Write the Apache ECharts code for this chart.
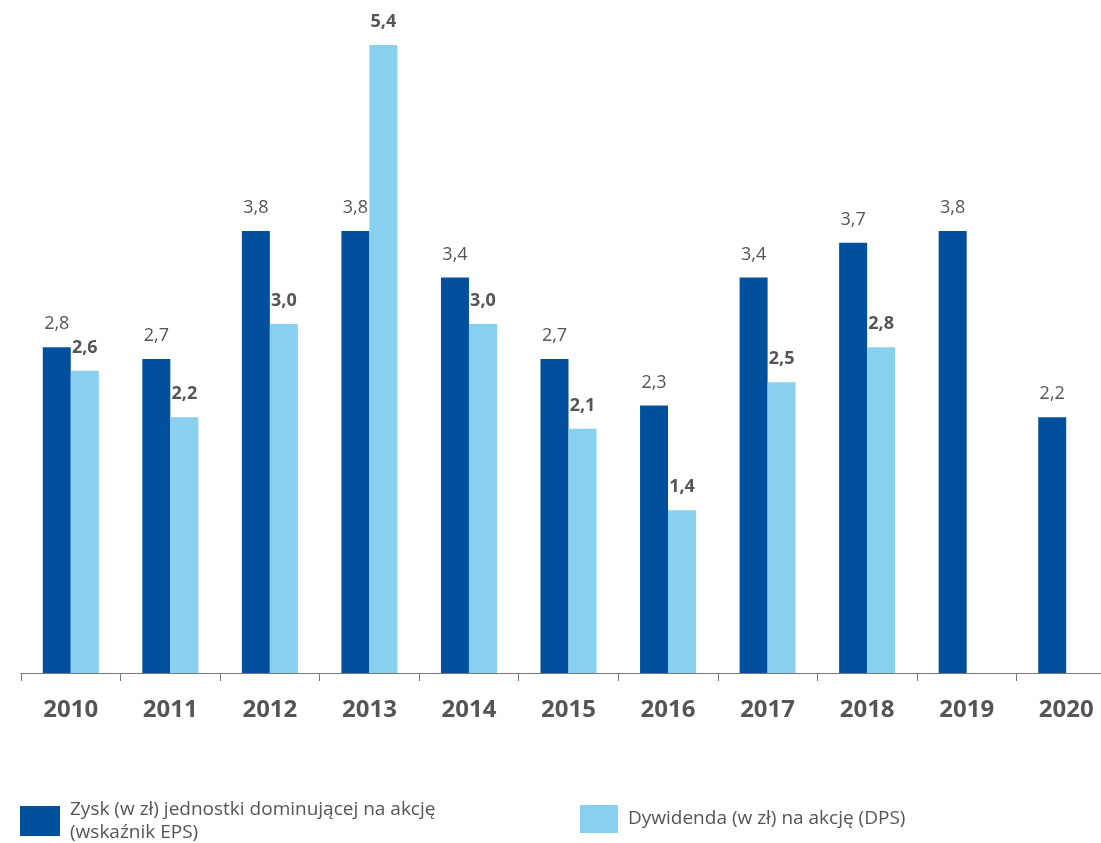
<!DOCTYPE html>
<html>
<head>
<meta charset="utf-8">
<script src="https://cdn.jsdelivr.net/npm/echarts@6/dist/echarts.min.js"></script>
<style>
  html, body { margin: 0; padding: 0; background: #fff; }
  #main { width: 1101px; height: 843px; }
</style>
</head>
<body>
<div id="main"></div>
<script>
// dane
var years = ['2010', '2011', '2012', '2013', '2014', '2015', '2016', '2017', '2018', '2019', '2020'];
var eps = [2.8, 2.7, 3.8, 3.8, 3.4, 2.7, 2.3, 3.4, 3.7, 3.8, 2.2];
var dps = [2.6, 2.2, 3.0, 5.4, 3.0, 2.1, 1.4, 2.5, 2.8, null, null];
var epsName = 'Zysk (w zł) jednostki dominującej na akcję (wskaźnik EPS)';
var dpsName = 'Dywidenda (w zł) na akcję (DPS)';

var font = '"Open Sans", "Noto Sans", sans-serif';
function fmt(p) {
  return p.value == null ? '' : p.value.toFixed(1).replace('.', ',');
}

var chart = echarts.init(document.getElementById('main'));
var option = {
  animation: false,
  textStyle: { fontFamily: font },
  grid: { left: 21, width: 1095, top: 45, bottom: 170, containLabel: false, outerBoundsMode: 'none' },
  legend: [
    {
      data: [epsName],
      left: 20, top: 798,
      padding: 0,
      itemWidth: 40, itemHeight: 30,
      icon: 'rect',
      selectedMode: false,
      formatter: function () { return 'Zysk (w zł) jednostki dominującej na akcję\n(wskaźnik EPS)'; },
      textStyle: { color: '#555', fontSize: 19, lineHeight: 23, fontFamily: font, padding: [0, 0, 0, 5] }
    },
    {
      data: [dpsName],
      left: 580, top: 805,
      padding: 0,
      itemWidth: 38, itemHeight: 28,
      icon: 'rect',
      selectedMode: false,
      textStyle: { color: '#555', fontSize: 19, fontFamily: font, padding: [3, 0, 0, 5] }
    }
  ],
  xAxis: {
    type: 'category',
    data: years,
    axisLine: { lineStyle: { color: '#777', width: 1 } },
    axisTick: { show: true, length: 8, lineStyle: { color: '#777', width: 1 } },
    axisLabel: { color: '#555', fontSize: 24, fontWeight: 'bold', margin: 25, fontFamily: font }
  },
  yAxis: {
    type: 'value',
    min: 0, max: 5.4,
    show: false,
    splitLine: { show: false }
  },
  series: [
    {
      name: epsName,
      type: 'bar',
      data: eps,
      barWidth: 28,
      barGap: '0%',
      itemStyle: { color: '#00509E' },
      label: { show: true, position: 'top', distance: 14, color: '#555', fontSize: 18, formatter: fmt, fontFamily: font }
    },
    {
      name: dpsName,
      type: 'bar',
      data: dps,
      barWidth: 28,
      barGap: '0%',
      itemStyle: { color: '#87D0F0' },
      label: { show: true, position: 'top', distance: 14, color: '#555', fontSize: 18, fontWeight: 'bold', formatter: fmt, fontFamily: font }
    }
  ]
};
chart.setOption(option);
</script>
</body>
</html>
